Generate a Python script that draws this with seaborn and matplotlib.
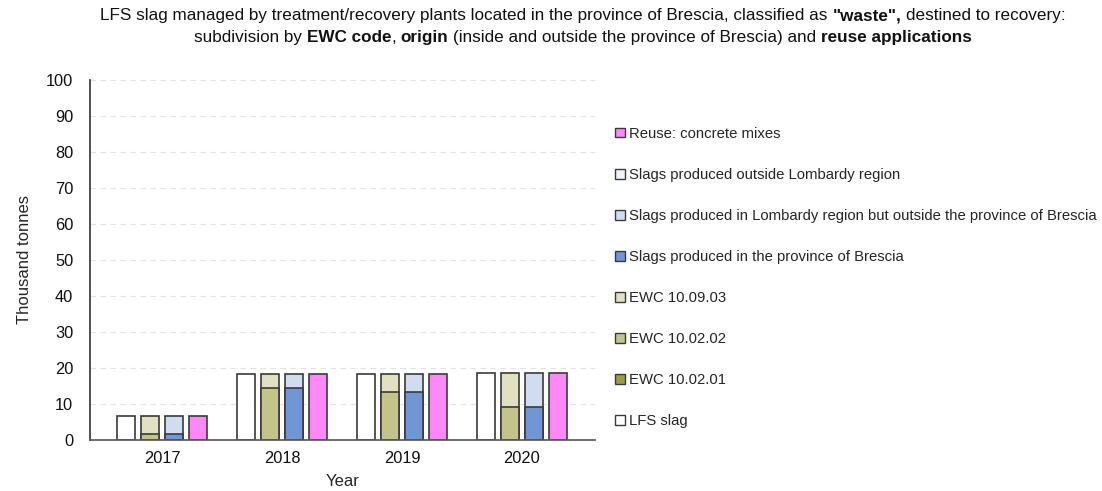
import pandas as pd
import seaborn as sns
import matplotlib.pyplot as plt
from matplotlib.patches import Patch


years = ["2017", "2018", "2019", "2020"]

# thousand tonnes
lfs_slag = [6.7, 18.2, 18.2, 18.5]
ewc_100201 = [0.0, 0.0, 0.0, 0.0]
ewc_100202 = [1.8, 14.4, 13.3, 9.3]
ewc_100903 = [4.9, 3.8, 4.9, 9.2]
prov_brescia = [1.8, 14.4, 13.3, 9.3]
lombardy_out_brescia = [4.9, 3.8, 4.9, 9.2]
outside_lombardy = [0.0, 0.0, 0.0, 0.0]
reuse_concrete = [6.7, 18.2, 18.2, 18.5]

series_names = [
    "LFS slag",
    "EWC 10.02.01",
    "EWC 10.02.02",
    "EWC 10.09.03",
    "Slags produced in the province of Brescia",
    "Slags produced in Lombardy region but outside the province of Brescia",
    "Slags produced outside Lombardy region",
    "Reuse: concrete mixes",
]
series_values = [
    lfs_slag, ewc_100201, ewc_100202, ewc_100903,
    prov_brescia, lombardy_out_brescia, outside_lombardy, reuse_concrete,
]
series_slot = ["total", "ewc", "ewc", "ewc", "origin", "origin", "origin", "reuse"]
series_colors = [
    "#ffffff", "#9c9c48", "#c4c48a", "#e1e0c0",
    "#7196d6", "#d0dcf0", "#eef2fa", "#ff88f8",
]
slots = ["total", "ewc", "origin", "reuse"]

# title pieces: (text, bold, space before)
title_line1 = [
    ("LFS slag managed by treatment/recovery plants located in the province of Brescia, classified as", False, False),
    ('"waste",', True, True),
    ("destined to recovery:", False, True),
]
title_line2 = [
    ("subdivision by", False, False),
    ("EWC code", True, True),
    (",", False, False),
    ("origin", True, True),
    ("(inside and outside the province of Brescia) and", False, True),
    ("reuse applications", True, True),
]


def build_layers() -> pd.DataFrame:
    rows = []
    for slot in slots:
        idx = [i for i, s in enumerate(series_slot) if s == slot]
        for yi, year in enumerate(years):
            cum = 0.0
            for i in idx:
                val = series_values[i][yi]
                cum += val
                if val > 0:
                    rows.append({"year": year, "slot": slot, "series": i, "top": cum})
    return pd.DataFrame(rows)


def rich_line(fig, pieces, xc, y, size):
    renderer = fig.canvas.get_renderer()
    fig_w = fig.bbox.width

    def width(s, bold):
        t = fig.text(0, 0, s, fontsize=size, fontweight="bold" if bold else "normal")
        w = t.get_window_extent(renderer).width
        t.remove()
        return w

    space = width("a a", False) - width("aa", False)
    texts, offsets, x = [], [], 0.0
    for s, bold, sp in pieces:
        if sp:
            x += space
        t = fig.text(0, y, s, fontsize=size, fontweight="bold" if bold else "normal",
                     ha="left", va="top", color="#111111")
        offsets.append(x)
        x += t.get_window_extent(renderer).width
        texts.append(t)
    start = xc * fig_w - x / 2
    for t, off in zip(texts, offsets):
        t.set_x((start + off) / fig_w)


def main() -> None:
    sns.set_theme(style="white")
    plt.rcParams["font.family"] = ["Liberation Sans", "DejaVu Sans"]

    df = build_layers()

    fig = plt.figure(figsize=(11.02, 4.91), dpi=100)
    ax = fig.add_axes([0.0817, 0.1039, 0.4583, 0.7332])

    # draw upper stack segments first so lower ones paint over them
    for i in sorted(df["series"].unique(), reverse=True):
        layer = df[df["series"] == i]
        sns.barplot(
            data=layer,
            x="year",
            y="top",
            hue="slot",
            order=years,
            hue_order=slots,
            palette={s: series_colors[i] for s in slots},
            dodge=True,
            width=0.8,
            gap=0.22,
            saturation=1,
            errorbar=None,
            edgecolor="#3a3a3a",
            linewidth=1.2,
            legend=False,
            ax=ax,
        )

    ax.set_xlim(-0.6, 3.61)
    ax.set_ylim(0, 100)
    ax.set_yticks(range(0, 101, 10))
    ax.yaxis.grid(True, linestyle=(0, (5, 4)), color="#e2e2e2", linewidth=0.8)
    ax.set_axisbelow(True)
    sns.despine(ax=ax)
    ax.spines["left"].set_color("#3a3a3a")
    ax.spines["bottom"].set_color("#5a5a5a")
    ax.tick_params(axis="both", length=0, labelsize=11.8, colors="#111111")
    ax.tick_params(axis="y", pad=12)
    ax.tick_params(axis="x", pad=8)
    ax.set_xlabel("Year", fontsize=12, labelpad=6)
    ax.set_ylabel("Thousand tonnes", fontsize=12, labelpad=10)

    handles = [
        Patch(facecolor=c, edgecolor="#3a3a3a", linewidth=1.0, label=n)
        for n, c in zip(series_names, series_colors)
    ]
    fig.legend(
        handles=handles[::-1],
        loc="center left",
        bbox_to_anchor=(0.553, 0.435),
        frameon=False,
        fontsize=10.7,
        handlelength=0.65,
        handleheight=0.65,
        handletextpad=0.3,
        labelspacing=1.82,
        borderaxespad=0,
    )

    rich_line(fig, title_line1, 0.529, 0.983, 12.3)
    rich_line(fig, title_line2, 0.529, 0.938, 12.3)

    fig.savefig("out.png", dpi=100)
    plt.close(fig)


if __name__ == "__main__":
    main()
